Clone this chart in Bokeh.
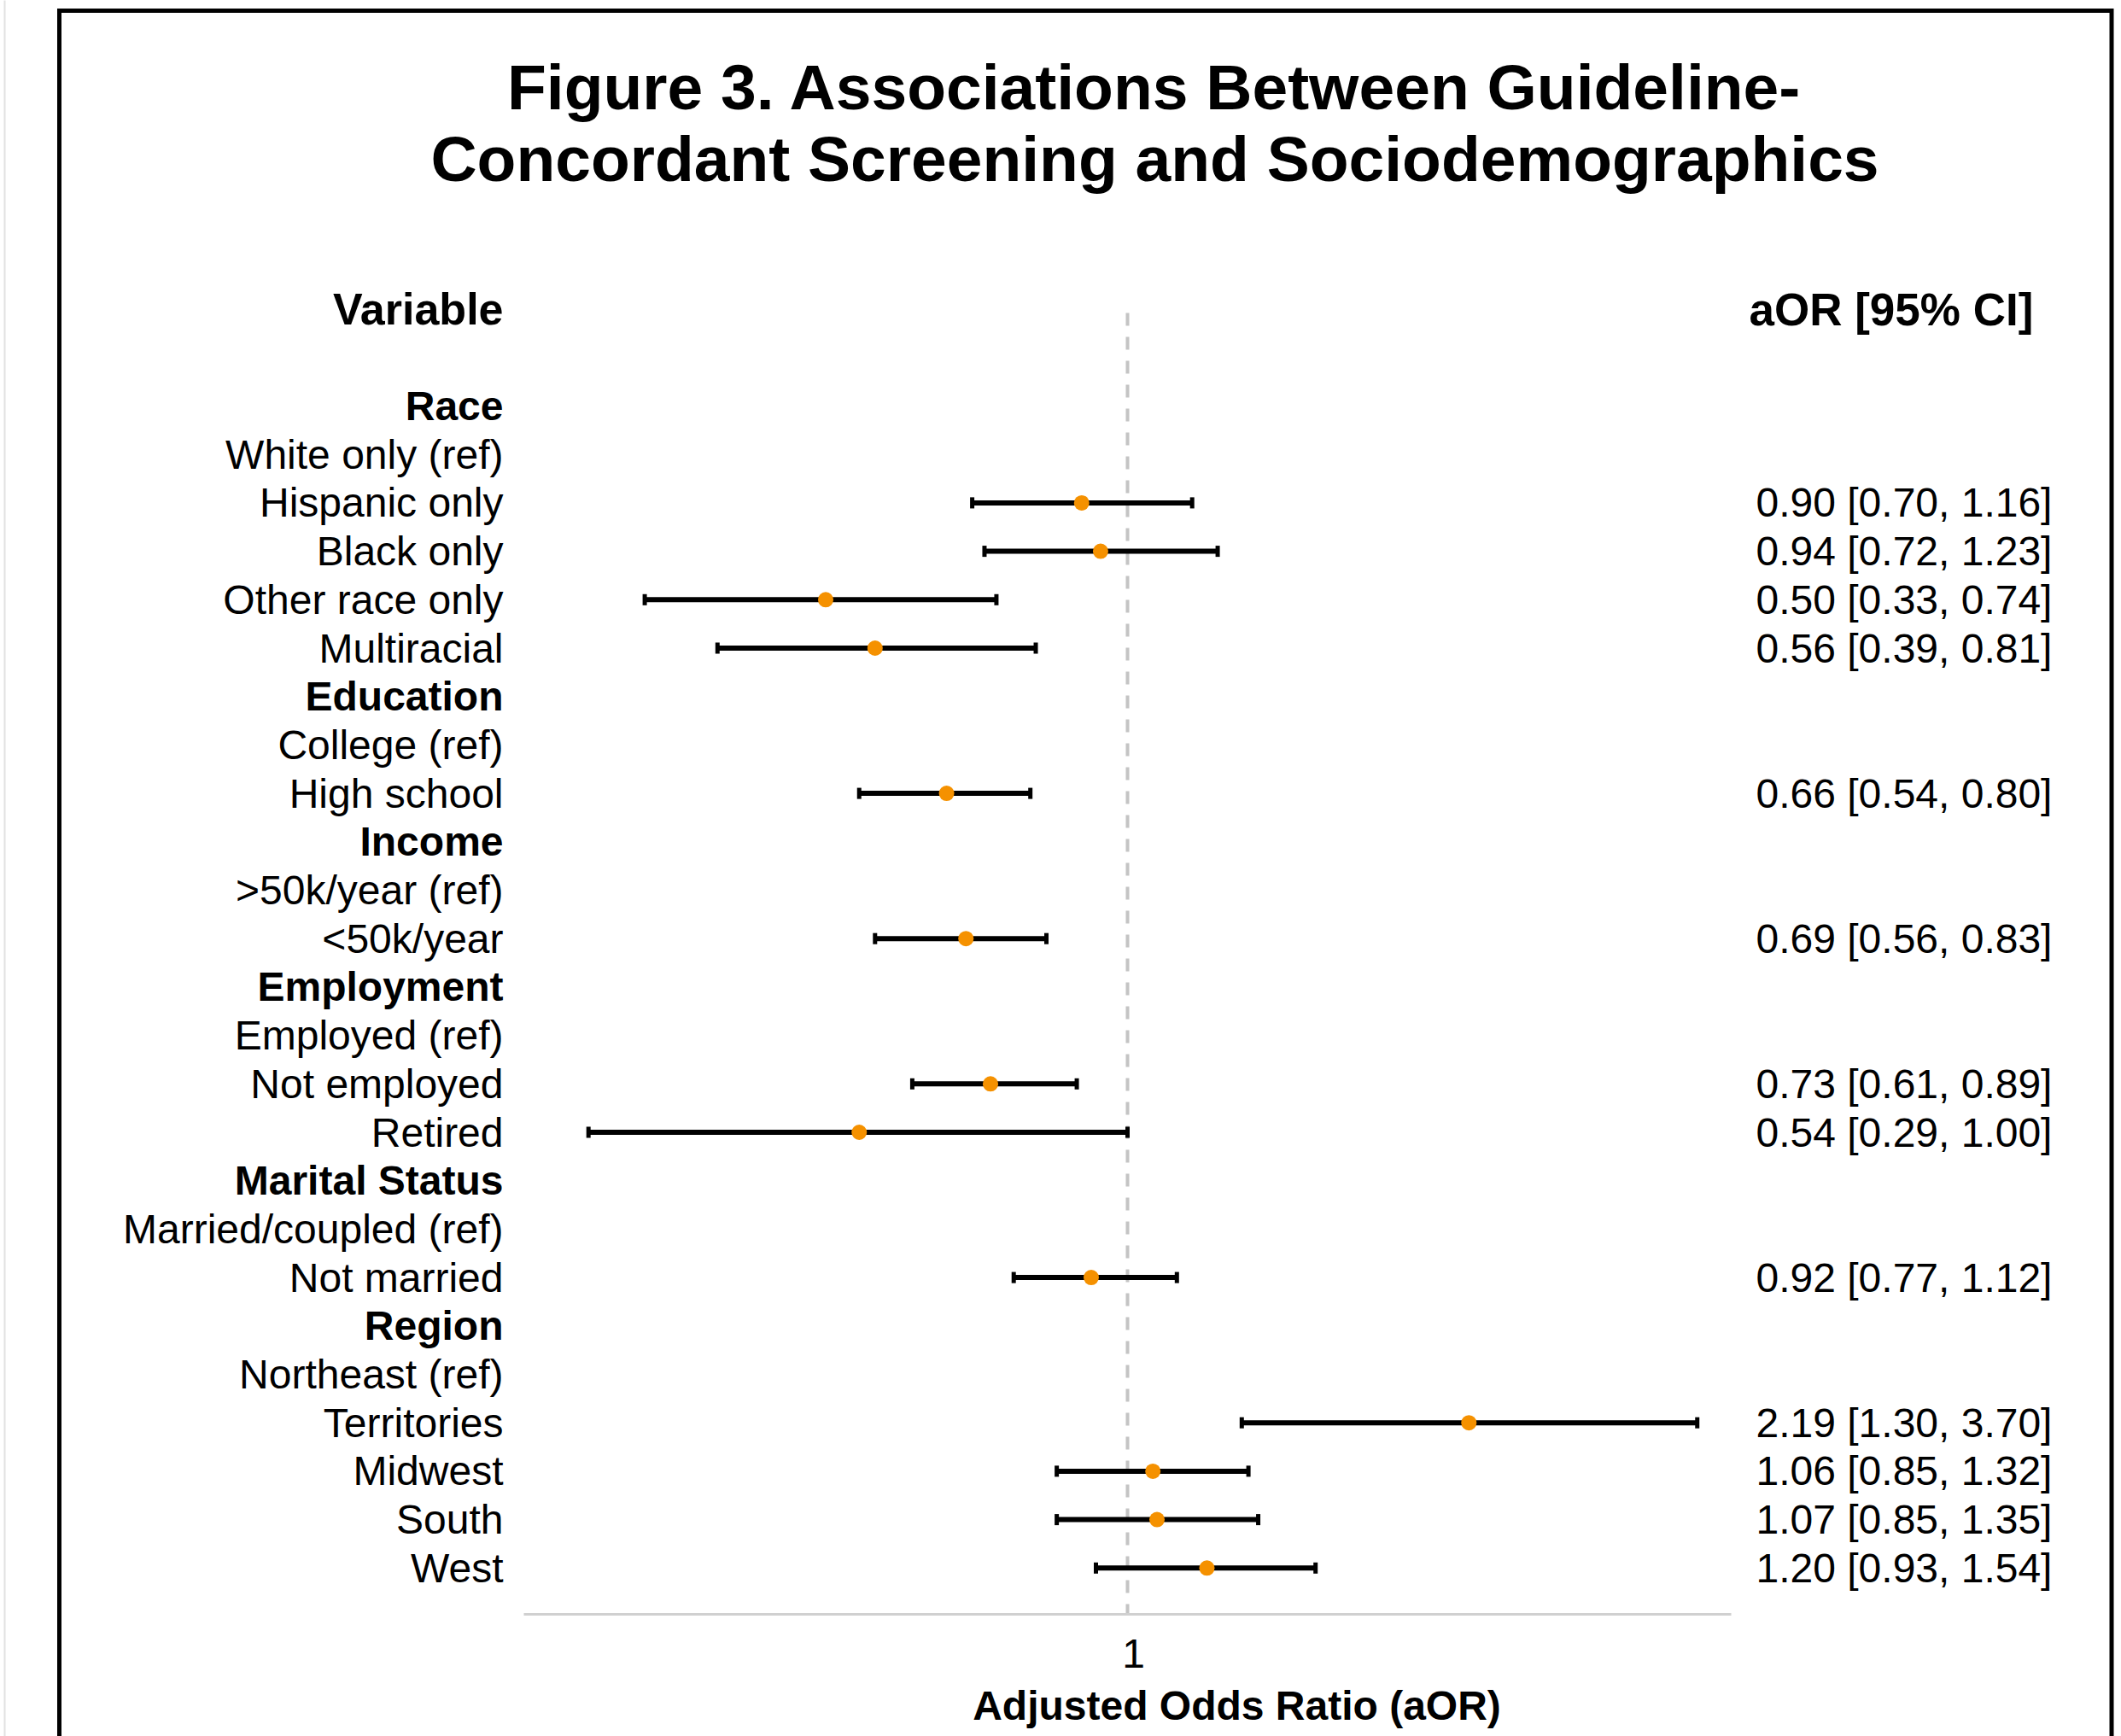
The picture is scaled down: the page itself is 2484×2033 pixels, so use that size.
import math
from bokeh.plotting import figure
from bokeh.models import Range1d, ColumnDataSource, LogScale
from bokeh.core.properties import value
from bokeh.embed import file_html
from bokeh.resources import INLINE

# ---------------- data ----------------
title_lines = ["Figure 3. Associations Between Guideline-",
               "Concordant Screening and Sociodemographics"]
header_left = "Variable"
header_right = "aOR [95% CI]"
axis_title = "Adjusted Odds Ratio (aOR)"
tick_values = [1]
tick_labels = ["1"]

row_labels = ["Race", "White only (ref)", "Hispanic only", "Black only", "Other race only", "Multiracial",
              "Education", "College (ref)", "High school",
              "Income", ">50k/year (ref)", "<50k/year",
              "Employment", "Employed (ref)", "Not employed", "Retired",
              "Marital Status", "Married/coupled (ref)", "Not married",
              "Region", "Northeast (ref)", "Territories", "Midwest", "South", "West"]
group_headers = ["Race", "Education", "Income", "Employment", "Marital Status", "Region"]

est_labels = ["Hispanic only", "Black only", "Other race only", "Multiracial", "High school",
              "<50k/year", "Not employed", "Retired", "Not married",
              "Territories", "Midwest", "South", "West"]
aor = [0.90, 0.94, 0.50, 0.56, 0.66, 0.69, 0.73, 0.54, 0.92, 2.19, 1.06, 1.07, 1.20]
ci_low = [0.70, 0.72, 0.33, 0.39, 0.54, 0.56, 0.61, 0.29, 0.77, 1.30, 0.85, 0.85, 0.93]
ci_high = [1.16, 1.23, 0.74, 0.81, 0.80, 0.83, 0.89, 1.00, 1.12, 3.70, 1.32, 1.35, 1.54]

axis_min, axis_max = 0.25, 4.0

# ---------------- layout (pixels) ----------------
W, H = 2484, 2033
X_LO_PX, X_HI_PX = 613, 2027          # where axis_min / axis_max land
k = (X_HI_PX - X_LO_PX) / math.log(axis_max / axis_min)
x_start = axis_min * math.exp(-X_LO_PX / k)
x_end = axis_max * math.exp((W - X_HI_PX) / k)
ROW0_PX, ROW_STEP = 475.0, 56.7


def xd(px):
    return axis_min * math.exp((px - X_LO_PX) / k)


def yd(py):
    return (py - ROW0_PX) / ROW_STEP


y_top = yd(0)
y_bot = yd(H)
AXIS_Y = yd(1890)

FONT = value("Liberation Sans")

p = figure(width=W, height=H, output_backend="svg", toolbar_location=None,
           x_range=Range1d(x_start, x_end), y_range=Range1d(y_bot, y_top),
           x_axis_location=None, y_axis_location=None,
           min_border=0, outline_line_color=None, background_fill_color="white",
           border_fill_color="white")
p.x_scale = LogScale()
p.xgrid.visible = False
p.ygrid.visible = False

# faint page edge at far left
p.segment(x0=[xd(5)], x1=[xd(5)], y0=[yd(-10)], y1=[yd(2100)], line_color="#e2e2e2", line_width=2)

# frame border (slide box)
p.line(x=[xd(69), xd(69), xd(2472.5), xd(2472.5)], y=[yd(2100), yd(12), yd(12), yd(2100)],
       line_color="black", line_width=5, line_join="miter")

# title
p.text(x=[xd(1352), xd(1352)], y=[yd(101), yd(185)], text=title_lines,
       text_font=FONT, text_font_size="75px", text_font_style="bold",
       text_align="center", text_baseline="middle", text_color="black")

# column headers
p.text(x=[xd(589)], y=[-2], text=[header_left], text_font=FONT, text_font_size="52px",
       text_font_style="bold", text_align="right", text_baseline="middle", text_color="black")
p.text(x=[xd(2048)], y=[-2], text=[header_right], text_font=FONT, text_font_size="53px",
       text_font_style="bold", text_align="left", text_baseline="middle", text_color="black")

# reference line at 1
p.segment(x0=[1], x1=[1], y0=[yd(366)], y1=[AXIS_Y], line_color="#c4c4c4",
          line_width=4, line_dash="15 13")

# x axis line and tick label
p.segment(x0=[axis_min], x1=[axis_max], y0=[AXIS_Y], y1=[AXIS_Y],
          line_color="#d0d0d0", line_width=3)
p.text(x=tick_values, y=[yd(1936)] * len(tick_values), text=tick_labels, x_offset=7,
       text_font=FONT, text_font_size="48px", text_align="center", text_baseline="middle",
       text_color="black")
p.text(x=[xd(1448)], y=[yd(1997)], text=[axis_title], text_font=FONT, text_font_size="48px",
       text_font_style="bold", text_align="center", text_baseline="middle", text_color="black")

# row labels
hdr = ColumnDataSource(dict(x=[xd(589)] * len(group_headers),
                            y=[row_labels.index(g) for g in group_headers],
                            t=group_headers))
items = [(i, l) for i, l in enumerate(row_labels) if l not in group_headers]
itm = ColumnDataSource(dict(x=[xd(589)] * len(items), y=[i for i, _ in items],
                            t=[l for _, l in items]))
p.text(x="x", y="y", text="t", source=hdr, text_font=FONT, text_font_size="48px",
       text_font_style="bold", text_align="right", text_baseline="middle", text_color="black")
p.text(x="x", y="y", text="t", source=itm, text_font=FONT, text_font_size="48px",
       text_align="right", text_baseline="middle", text_color="black")

# estimates
est_rows = [row_labels.index(l) for l in est_labels]
src = ColumnDataSource(dict(
    y=est_rows, aor=aor, lo=ci_low, hi=ci_high,
    y0=[r - 0.115 for r in est_rows], y1=[r + 0.115 for r in est_rows],
    txt=[f"{a:.2f} [{l:.2f}, {h:.2f}]" for a, l, h in zip(aor, ci_low, ci_high)],
    tx=[xd(2056)] * len(est_rows)))

p.segment(x0="lo", x1="hi", y0="y", y1="y", source=src, line_color="black", line_width=6)
p.segment(x0="lo", x1="lo", y0="y0", y1="y1", source=src, line_color="black", line_width=5)
p.segment(x0="hi", x1="hi", y0="y0", y1="y1", source=src, line_color="black", line_width=5)
p.scatter(x="aor", y="y", source=src, size=18, marker="circle",
          fill_color="#F59100", line_color=None)
p.text(x="tx", y="y", text="txt", source=src, text_font=FONT, text_font_size="48px",
       text_align="left", text_baseline="middle", text_color="black")

open("out.html", "w").write(file_html(p, INLINE))
